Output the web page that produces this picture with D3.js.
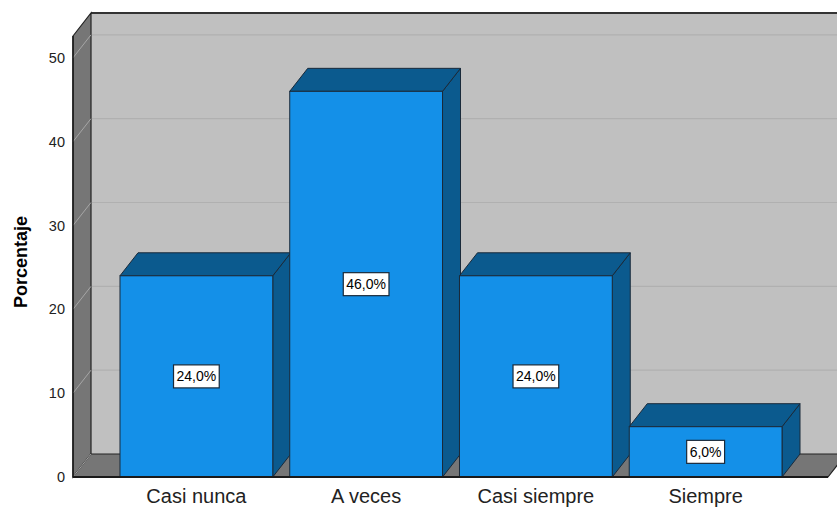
<!DOCTYPE html>
<html><head><meta charset="utf-8">
<script src="https://cdn.jsdelivr.net/npm/d3@7"></script>
<style>body{margin:0;background:#fff}svg{display:block}</style>
</head><body>
<script>
const categories = ["Casi nunca", "A veces", "Casi siempre", "Siempre"];
const values = [24.0, 46.0, 24.0, 6.0];
const valueLabels = ["24,0%", "46,0%", "24,0%", "6,0%"];
const yTicks = [0, 10, 20, 30, 40, 50];
const yTitle = "Porcentaje";

const W = 837, H = 507;
const DX = 18, DY = -23;
const x0 = 73, floorY = 477, rightFront = 828;

const svg = d3.select("body").append("svg").attr("width", W).attr("height", H)
  .style("font-family", "'Liberation Sans', Arial, sans-serif");

const y = d3.scaleLinear().domain([0, 52.6]).range([floorY, 36]);
const x = d3.scaleBand().domain(categories).range([111.5, 790.5])
  .paddingInner(0.1).paddingOuter(0.05);

const topY = y.range()[1];
const line = d3.line();

// back wall
svg.append("rect").attr("x", x0 + DX).attr("y", topY + DY)
  .attr("width", W).attr("height", floorY - topY).attr("fill", "#c0c0c0");
// back wall gridlines
yTicks.filter(t => t > 0).forEach(t => {
  svg.append("line").attr("x1", x0 + DX).attr("x2", W)
    .attr("y1", y(t) + DY).attr("y2", y(t) + DY)
    .attr("stroke", "#b0b0b0").attr("stroke-width", 1.2);
});
// top edge
svg.append("line").attr("x1", x0 + DX).attr("x2", W)
  .attr("y1", topY + DY).attr("y2", topY + DY)
  .attr("stroke", "#333").attr("stroke-width", 2.2);

// left wall
svg.append("path").attr("d", line([[x0, topY], [x0 + DX, topY + DY], [x0 + DX, floorY + DY], [x0, floorY]]) + "Z")
  .attr("fill", "#767676").attr("stroke", "#222").attr("stroke-width", 1.2);
yTicks.forEach(t => {
  svg.append("line").attr("x1", x0).attr("y1", y(t)).attr("x2", x0 + DX).attr("y2", y(t) + DY)
    .attr("stroke", "#a6a6a6").attr("stroke-width", 1);
});
// floor
svg.append("path").attr("d", line([[x0, floorY], [x0 + DX, floorY + DY], [rightFront + DX, floorY + DY], [rightFront, floorY]]) + "Z")
  .attr("fill", "#767676").attr("stroke", "#222").attr("stroke-width", 1.2);
svg.append("line").attr("x1", x0).attr("y1", floorY).attr("x2", x0 + DX).attr("y2", floorY + DY)
  .attr("stroke", "#a6a6a6").attr("stroke-width", 1);

// bars
const bars = svg.append("g");
categories.forEach((c, i) => {
  const bx = x(c), bw = x.bandwidth(), by = y(values[i]);
  const g = bars.append("g");
  g.append("path").attr("d", line([[bx + bw, by], [bx + bw + DX, by + DY], [bx + bw + DX, floorY + DY], [bx + bw, floorY]]) + "Z")
    .attr("fill", "#0b5a8e").attr("stroke", "#1a2a3a").attr("stroke-width", 1);
  g.append("path").attr("d", line([[bx, by], [bx + DX, by + DY], [bx + bw + DX, by + DY], [bx + bw, by]]) + "Z")
    .attr("fill", "#0b5a8e").attr("stroke", "#1a2a3a").attr("stroke-width", 1);
  g.append("rect").attr("x", bx).attr("y", by).attr("width", bw).attr("height", floorY - by)
    .attr("fill", "#1490e8").attr("stroke", "#1a2a3a").attr("stroke-width", 1);
});

// axis front lines
svg.append("line").attr("x1", x0).attr("x2", rightFront).attr("y1", floorY).attr("y2", floorY)
  .attr("stroke", "#1a1a1a").attr("stroke-width", 2);
svg.append("line").attr("x1", x0).attr("x2", x0).attr("y1", topY).attr("y2", floorY)
  .attr("stroke", "#1a1a1a").attr("stroke-width", 1.5);

// value labels
categories.forEach((c, i) => {
  const cx = x(c) + x.bandwidth() / 2, cy = y(values[i] / 2);
  const g = svg.append("g");
  const t = g.append("text").attr("x", cx).attr("y", cy).attr("text-anchor", "middle")
    .attr("dominant-baseline", "central").attr("font-size", 14).attr("fill", "#000").text(valueLabels[i]);
  const bb = t.node().getBBox();
  g.insert("rect", "text").attr("x", cx - bb.width / 2 - 3).attr("y", cy - 11.5)
    .attr("width", bb.width + 6).attr("height", 23)
    .attr("fill", "#fff").attr("stroke", "#1a2a3a").attr("stroke-width", 1.2);
});

// y axis labels
const yAxis = d3.axisLeft(y).tickValues(yTicks).tickSize(0).tickPadding(8).tickFormat(d3.format("d"));
const ya = svg.append("g").attr("transform", `translate(${x0},0)`).call(yAxis);
ya.select(".domain").remove();
ya.selectAll("text").attr("font-size", 14.5).attr("fill", "#222")
  .style("font-family", "'Liberation Sans', Arial, sans-serif");

// x axis labels
const xAxis = d3.axisBottom(x).tickSize(0).tickPadding(12);
const xa = svg.append("g").attr("transform", `translate(0,${floorY})`).call(xAxis);
xa.select(".domain").remove();
xa.selectAll("text").attr("font-size", 20).attr("fill", "#222")
  .style("font-family", "'Liberation Sans', Arial, sans-serif");

// y title
svg.append("text").attr("transform", "translate(27,262) rotate(-90)")
  .attr("text-anchor", "middle").attr("font-weight", "bold").attr("font-size", 18)
  .attr("fill", "#000").text(yTitle);
</script>
</body></html>
